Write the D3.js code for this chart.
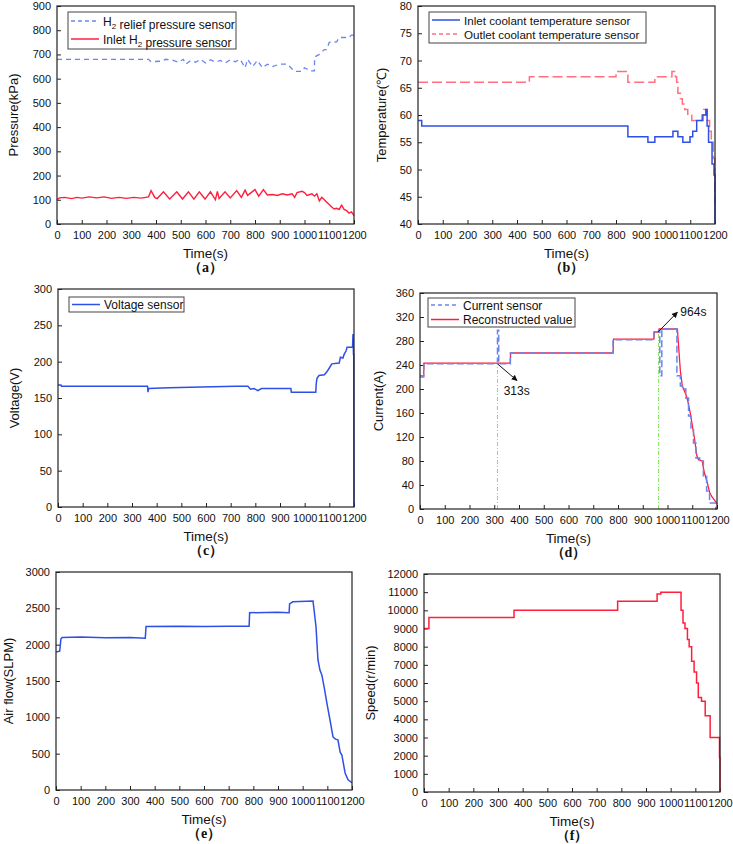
<!DOCTYPE html>
<html><head><meta charset="utf-8">
<script src="https://cdn.jsdelivr.net/npm/d3@7"></script>
<style>
body{margin:0;background:#fff;}
svg{display:block;font-family:"Liberation Sans",Arial,sans-serif;}
</style></head>
<body><svg id="c" width="733" height="844"></svg>
<script>
// ---------- DATA ----------
const timeTicks = [0,100,200,300,400,500,600,700,800,900,1000,1100,1200];

// (a) pressure
const pressureTicks = [0,100,200,300,400,500,600,700,800,900];
const h2Relief = [[0,680],[370,680],[380,670],[420,672],[440,680],[470,675],[490,668],[510,680],[520,660],[540,675],[560,668],[580,680],[600,665],[620,678],[640,668],[660,675],[680,665],[700,678],[720,670],[740,680],[760,645],[770,680],[790,650],[810,675],[830,645],[850,660],[870,650],[900,660],[930,660],[950,640],[960,630],[990,630],[1000,645],[1010,640],[1020,632],[1040,632],[1041,690],[1060,700],[1080,720],[1090,720],[1100,750],[1130,752],[1140,770],[1180,770],[1190,780],[1200,780]];
const inletH2 = [[0,100],[10,108],[30,110],[60,105],[80,110],[100,107],[130,112],[160,108],[190,112],[220,106],[250,110],[280,106],[310,110],[340,107],[370,112],[380,138],[395,110],[405,105],[430,133],[455,103],[484,133],[507,103],[531,133],[553,103],[575,133],[598,103],[620,133],[640,100],[648,135],[655,105],[679,133],[700,108],[726,138],[745,110],[760,140],[770,118],[800,142],[815,115],[834,142],[850,120],[870,122],[890,118],[910,125],[930,120],[950,125],[960,110],[970,130],[990,135],[1000,130],[1010,118],[1030,125],[1040,115],[1050,125],[1060,95],[1070,110],[1080,100],[1090,90],[1100,80],[1110,70],[1120,62],[1130,65],[1140,60],[1150,78],[1160,60],[1170,55],[1180,45],[1190,50],[1200,35]];

// (b) temperature
const tempTicks = [40,45,50,55,60,65,70,75,80];
const inletCoolant = [[0,59],[15,58],[848,56],[929,55],[957,56],[1030,57],[1050,56],[1070,55],[1099,56],[1110,57],[1126,59],[1151,60],[1163,61],[1168,58],[1174,55],[1188,51],[1196,49],[1200,40]];
const outletCoolant = [[0,66],[450,67],[800,68],[848,66],[957,67],[1026,68],[1040,67],[1045,66],[1050,64],[1060,63],[1068,62],[1078,61],[1090,60],[1106,59],[1147,60],[1155,61],[1168,59],[1178,57],[1185,55],[1193,52],[1199,44],[1200,44]];

// (c) voltage
const voltTicks = [0,50,100,150,200,250,300];
const voltage = [[0,168],[12,168],[14,166],[363,166],[365,158],[367,163],[450,164],[580,165],[720,166],[770,166],[780,162],[795,163],[810,160],[825,163],[944,163],[946,158],[1045,158],[1047,170],[1050,177],[1058,181],[1080,182],[1090,186],[1103,193],[1110,197],[1140,198],[1145,206],[1155,205],[1160,210],[1168,215],[1172,220],[1194,220],[1196,238],[1198,210],[1199,210],[1200,0]];

// (d) current
const currentTicks = [0,40,80,120,160,200,240,280,320,360];
const currentSensor = [[0,220],[15,242],[313,298],[318,242],[365,260],[780,282],[945,295],[964,298],[969,222],[977,300],[1038,222],[1052,205],[1060,200],[1074,185],[1085,155],[1095,135],[1105,110],[1115,85],[1130,80],[1145,55],[1158,30],[1170,10],[1195,0],[1200,0]];
const reconstructed = [[0,222],[15,222],[16,243],[365,243],[366,260],[780,260],[782,283],[945,283],[947,295],[963,295],[966,300],[1040,300],[1045,270],[1052,230],[1060,205],[1075,190],[1082,180],[1092,160],[1100,140],[1110,115],[1118,90],[1125,82],[1140,80],[1148,62],[1160,45],[1170,28],[1180,20],[1195,12],[1200,8]];
const faultTimes = [[313,245],[964,300]];

// (e) air flow
const airTicks = [0,500,1000,1500,2000,2500,3000];
const airFlow = [[0,1900],[15,1910],[20,2080],[25,2100],[100,2105],[200,2095],[300,2100],[362,2090],[365,2250],[500,2255],[600,2250],[700,2255],[783,2255],[785,2440],[900,2445],[945,2440],[947,2560],[960,2590],[1042,2600],[1054,2250],[1062,1790],[1070,1650],[1078,1580],[1088,1400],[1098,1200],[1111,960],[1123,730],[1133,700],[1143,690],[1152,520],[1159,480],[1172,235],[1184,140],[1200,100]];

// (f) speed
const speedTicks = [0,1000,2000,3000,4000,5000,6000,7000,8000,9000,10000,11000,12000];
const speed = [[0,9000],[20,9600],[365,10000],[785,10500],[945,10900],[960,11000],[1042,10000],[1050,9300],[1058,9000],[1068,8400],[1075,8000],[1085,7200],[1095,6600],[1105,6000],[1112,5200],[1125,5000],[1140,4200],[1160,3000],[1198,1900],[1200,0]];

// ---------- DRAW ----------
const svg = d3.select("#c");
const BLUE="#2f50e6", BLUE_L="#6a86ee", RED="#ff1f3d", RED_L="#ff7080", GREEN="#7ee85a";

function panel(p){
  const x = d3.scaleLinear().domain([0,1200]).range([p.L,p.R]);
  const y = d3.scaleLinear().domain(p.yDomain).range([p.B,p.T]);
  const g = svg.append("g");
  const xa = g.append("g").attr("transform",`translate(0,${p.B})`)
    .call(d3.axisBottom(x).tickValues(timeTicks).tickSize(-4).tickPadding(7).tickFormat(d3.format("d")));
  const ya = g.append("g").attr("transform",`translate(${p.L},0)`)
    .call(d3.axisLeft(y).tickValues(p.yTicks).tickSize(-4).tickPadding(6).tickFormat(d3.format("d")));
  [xa,ya].forEach(a=>{a.select(".domain").remove();a.selectAll("text").attr("font-size",11).attr("fill","#111").attr("font-family","Liberation Sans, Arial");a.selectAll("line").attr("stroke","#222");});
  (p.series||[]).forEach(s=>{
    const line=d3.line().x(d=>x(d[0])).y(d=>y(d[1])).curve(s.step?d3.curveStepAfter:d3.curveLinear);
    g.append("path").datum(s.data).attr("d",line).attr("fill","none")
      .attr("stroke",s.color).attr("stroke-width",s.w||1.5).attr("stroke-dasharray",s.dash||null);
  });
  if(p.extra) p.extra(g,x,y);
  g.append("rect").attr("x",p.L).attr("y",p.T).attr("width",p.R-p.L).attr("height",p.B-p.T)
    .attr("fill","none").attr("stroke","#222").attr("stroke-width",1.2);
  if(p.legend){
    const lg=p.legend;
    g.append("rect").attr("x",lg.x).attr("y",lg.y).attr("width",lg.w).attr("height",lg.h)
      .attr("fill","#fff").attr("stroke","#444").attr("stroke-width",1);
    lg.items.forEach((it,i)=>{
      const yy=lg.y+lg.r0+i*lg.dy;
      g.append("line").attr("x1",lg.x+3).attr("x2",lg.x+31).attr("y1",yy).attr("y2",yy)
        .attr("stroke",it.color).attr("stroke-width",1.5).attr("stroke-dasharray",it.dash||null);
      const t=g.append("text").attr("x",lg.x+35).attr("y",yy+4.5).attr("font-size",lg.fs||12).attr("fill","#111");
      it.parts.forEach(pt=>{ if(pt.sub){t.append("tspan").attr("font-size",8).attr("dy",3).text(pt.t); t.append("tspan").attr("dy",-3).text("");} else t.append("tspan").text(pt.t);});
    });
  }
  g.append("text").attr("x",(p.L+p.R)/2).attr("y",p.B+34).attr("text-anchor","middle").attr("font-size",13.5).attr("fill","#111").text("Time(s)");
  g.append("text").attr("transform",`translate(${p.yx},${(p.T+p.B)/2}) rotate(-90)`).attr("text-anchor","middle").attr("dy","0.35em").attr("font-size",13).attr("fill","#111").text(p.yLabel);
  g.append("text").attr("x",(p.L+p.R)/2).attr("y",p.B+48).attr("text-anchor","middle").attr("font-size",14).attr("font-weight","bold").attr("font-family","Liberation Serif, Times New Roman, serif").attr("fill","#111").text(p.tag);
}

panel({L:57,R:354,T:6,B:224,yDomain:[0,900],yTicks:pressureTicks,yLabel:"Pressure(kPa)",yx:13,tag:"（a）",
  series:[{data:h2Relief,color:BLUE_L,dash:"5,4",w:1.3},{data:inletH2,color:RED,w:1.4}],
  legend:{x:68,y:12,w:168,h:37,r0:9,dy:18,items:[
    {color:BLUE_L,dash:"4,3",parts:[{t:"H"},{t:"2",sub:1},{t:" relief pressure sensor"}]},
    {color:RED,parts:[{t:"Inlet H"},{t:"2",sub:1},{t:" pressure sensor"}]}]}});

panel({L:418,R:715,T:6,B:224,yDomain:[40,80],yTicks:tempTicks,yLabel:"Temperature(℃)",yx:381,tag:"（b）",
  series:[{data:outletCoolant,color:RED_L,dash:"10,4",step:1},{data:inletCoolant,color:BLUE,step:1}],
  legend:{x:429,y:12,w:217,h:31,r0:8,dy:14,fs:11.6,items:[
    {color:BLUE,parts:[{t:"Inlet coolant temperature sensor"}]},
    {color:RED_L,dash:"4,3",parts:[{t:"Outlet coolant temperature sensor"}]}]}});

panel({L:58,R:354,T:289,B:507,yDomain:[0,300],yTicks:voltTicks,yLabel:"Voltage(V)",yx:14,tag:"（c）",
  series:[{data:voltage,color:BLUE}],
  legend:{x:69,y:297,w:115,h:15,r0:7.5,dy:14,items:[{color:BLUE,parts:[{t:"Voltage sensor"}]}]}});

panel({L:420,R:717,T:293,B:509,yDomain:[0,360],yTicks:currentTicks,yLabel:"Current(A)",yx:378,tag:"（d）",
  series:[{data:reconstructed,color:RED,w:1.3},{data:currentSensor,color:BLUE_L,dash:"7,3",step:1,w:1.5}],
  extra:(g,x,y)=>{
    faultTimes.forEach(f=>{
      g.append("line").attr("x1",x(f[0])).attr("x2",x(f[0])).attr("y1",y(0)).attr("y2",y(f[1]))
        .attr("stroke",GREEN).attr("stroke-width",1).attr("stroke-dasharray","4,2,1,2");
    });
    const defs=svg.append("defs");
    defs.append("marker").attr("id","ah").attr("viewBox","0 0 10 10").attr("refX",9).attr("refY",5)
      .attr("markerWidth",6).attr("markerHeight",6).attr("orient","auto")
      .append("path").attr("d","M0,0L10,5L0,10z").attr("fill","#111");
    g.append("line").attr("x1",x(313)).attr("y1",y(242)).attr("x2",x(392)).attr("y2",y(214))
      .attr("stroke","#111").attr("stroke-width",1).attr("marker-end","url(#ah)");
    g.append("text").attr("x",x(338)).attr("y",y(190)).attr("font-size",12).attr("fill","#111").text("313s");
    g.append("line").attr("x1",x(962)).attr("y1",y(295)).attr("x2",x(1040)).attr("y2",y(328))
      .attr("stroke","#111").attr("stroke-width",1).attr("marker-end","url(#ah)");
    g.append("text").attr("x",x(1052)).attr("y",y(322)).attr("font-size",12).attr("fill","#111").text("964s");
  },
  legend:{x:428,y:298,w:147,h:29,r0:7,dy:14.5,items:[
    {color:BLUE_L,dash:"4,3",parts:[{t:"Current sensor"}]},
    {color:RED,parts:[{t:"Reconstructed value"}]}]}});

panel({L:56,R:352,T:572,B:790,yDomain:[0,3000],yTicks:airTicks,yLabel:"Air flow(SLPM)",yx:8,tag:"（e）",
  series:[{data:airFlow,color:BLUE}]});

panel({L:424,R:720,T:574,B:792,yDomain:[0,12000],yTicks:speedTicks,yLabel:"Speed(r/min)",yx:370,tag:"（f）",
  series:[{data:speed,color:RED,step:1}]});
</script></body></html>
